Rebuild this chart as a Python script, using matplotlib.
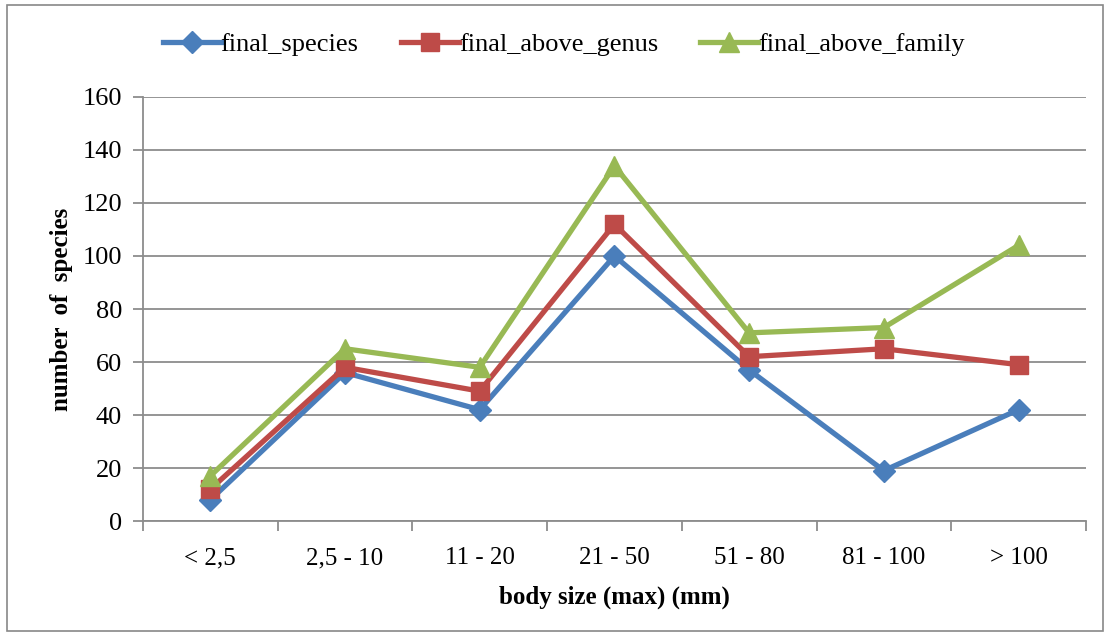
import matplotlib
matplotlib.use("Agg")
import matplotlib.pyplot as plt
from matplotlib.patches import Rectangle

plt.rcParams['font.family'] = ['Liberation Serif', 'DejaVu Serif']

categories = ["< 2,5", "2,5 - 10", "11 - 20", "21 - 50", "51 - 80", "81 - 100", "> 100"]
final_species = [8, 56, 42, 100, 57, 19, 42]
final_above_genus = [12, 58, 49, 112, 62, 65, 59]
final_above_family = [17, 65, 58, 134, 71, 73, 104]
y_ticks = [0, 20, 40, 60, 80, 100, 120, 140, 160]

fig = plt.figure(figsize=(11.1, 6.36), dpi=100)
fig.patches.append(Rectangle((0.006, 0.008), 0.988, 0.984, transform=fig.transFigure,
                             fill=False, edgecolor='#888888', linewidth=1.2))
ax = fig.add_axes([0.1288, 0.1808, 0.8495, 0.6667])

x = list(range(len(categories)))
ax.plot(x, final_species, color='#4a7ebb', linewidth=3.8, marker='D', markersize=11,
        label='final_species', zorder=3)
ax.plot(x, final_above_genus, color='#be4b48', linewidth=3.8, marker='s', markersize=13,
        label='final_above_genus', zorder=3)
ax.plot(x, final_above_family, color='#98b954', linewidth=3.8, marker='^', markersize=14,
        label='final_above_family', zorder=3)

ax.set_xlim(-0.5, len(categories) - 0.5)
ax.set_ylim(0, 160)
ax.set_yticks(y_ticks)
ax.set_yticklabels([str(v) for v in y_ticks], fontsize=19)
ax.yaxis.grid(True, color='#8c8c8c', linewidth=1.3)
ax.set_axisbelow(True)

ax.set_xticks(x)
ax.set_xticklabels(categories, fontsize=18)
ax.tick_params(axis='x', length=0, pad=19)
ax.set_xticks([i - 0.5 for i in range(len(categories) + 1)], minor=True)
ax.tick_params(axis='x', which='minor', length=7, color='#8c8c8c', width=1.3)
ax.tick_params(axis='y', length=7, color='#8c8c8c', width=1.3, pad=8)

for side in ('top', 'right'):
    ax.spines[side].set_visible(False)
for side in ('left', 'bottom'):
    ax.spines[side].set_color('#8c8c8c')
    ax.spines[side].set_linewidth(1.3)

ax.set_xlabel('body size (max) (mm)', fontsize=18, fontweight='bold', labelpad=12)
ax.set_ylabel('number  of  species', fontsize=18, fontweight='bold', labelpad=7)

fig.legend(loc='center', bbox_to_anchor=(0.508, 0.93), ncol=3, frameon=False,
           fontsize=19, handlelength=2.2, handletextpad=0.0, columnspacing=1.6)

fig.savefig('out.png', dpi=100)
